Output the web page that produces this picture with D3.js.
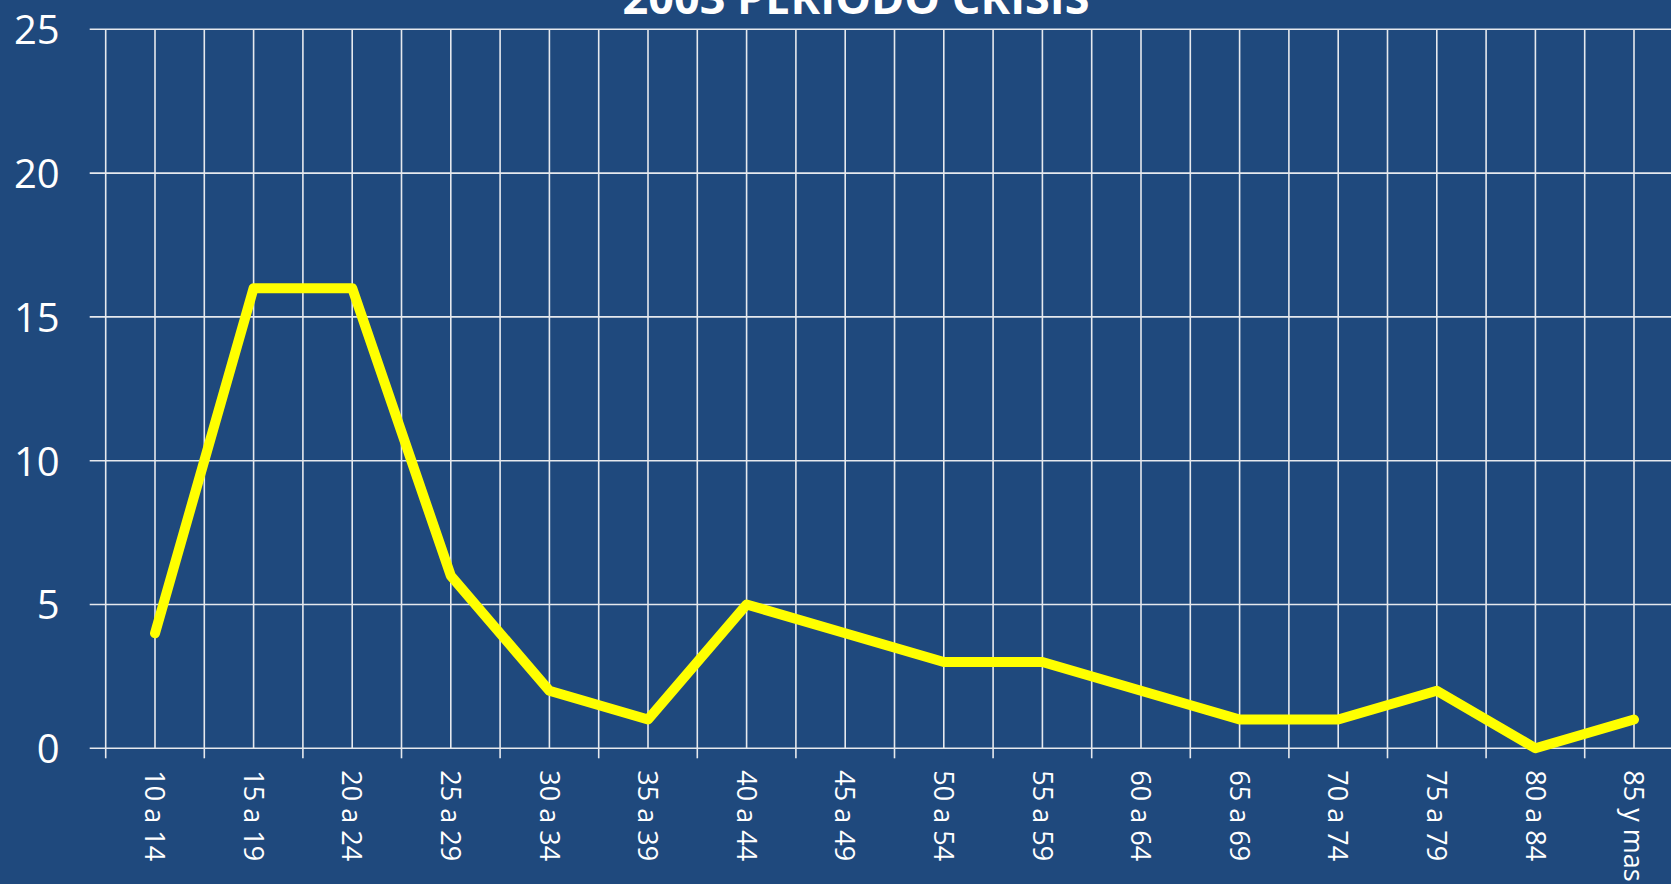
<!DOCTYPE html>
<html>
<head>
<meta charset="utf-8">
<script src="https://cdn.jsdelivr.net/npm/d3@7"></script>
<style>
  html, body { margin: 0; padding: 0; background: #1f497d; overflow: hidden; }
  #chart text { fill: #ffffff; font-family: "Open Sans", sans-serif; }
</style>
</head>
<body>
<div id="chart"></div>
<script>
// Datos del gráfico
const categorias = ["10 a 14", "15 a 19", "20 a 24", "25 a 29", "30 a 34", "35 a 39", "40 a 44", "45 a 49",
    "50 a 54", "55 a 59", "60 a 64", "65 a 69", "70 a 74", "75 a 79", "80 a 84", "85 y mas"];
const valores = [4, 16, 16, 6, 2, 1, 5, 4, 3, 3, 2, 1, 1, 2, 0, 1];
const ticksY = [0, 5, 10, 15, 20, 25];
const titulo = "2003 PERIODO CRISIS";

// Dimensiones
const width = 1671;
const height = 884;
const margen = { left: 105.7, top: 29.3, bottom: 748.3 };
const anchoCat = 98.6;

const svg = d3.select("#chart").append("svg")
    .attr("width", width)
    .attr("height", height);

svg.append("rect")
    .attr("width", width)
    .attr("height", height)
    .attr("fill", "#1f497d");

// Escalas
const x = d3.scaleBand()
    .domain(categorias)
    .range([margen.left, margen.left + anchoCat * categorias.length])
    .padding(0);

const y = d3.scaleLinear()
    .domain([0, 25])
    .range([margen.bottom, margen.top]);

const centro = d => x(d) + x.bandwidth() / 2;
const colorRejilla = "#e6e9ee";

// Líneas horizontales de la rejilla
svg.append("g")
    .selectAll("line")
    .data(ticksY)
    .enter()
    .append("line")
    .attr("x1", margen.left - 16)
    .attr("x2", width)
    .attr("y1", d => y(d))
    .attr("y2", d => y(d))
    .attr("stroke", colorRejilla)
    .attr("stroke-width", 1.6);

// Líneas verticales: bordes y centros de cada categoría
const bordes = categorias.map(d => x(d)).concat([x.range()[1]]);
const verticales = bordes.concat(categorias.map(centro));
svg.append("g")
    .selectAll("line")
    .data(verticales)
    .enter()
    .append("line")
    .attr("x1", d => d)
    .attr("x2", d => d)
    .attr("y1", margen.top)
    .attr("y2", margen.bottom)
    .attr("stroke", colorRejilla)
    .attr("stroke-width", 1.6);

// Marcas del eje X en los bordes
svg.append("g")
    .selectAll("line")
    .data(bordes)
    .enter()
    .append("line")
    .attr("x1", d => d)
    .attr("x2", d => d)
    .attr("y1", margen.bottom)
    .attr("y2", margen.bottom + 10)
    .attr("stroke", colorRejilla)
    .attr("stroke-width", 1.6);

// Eje Y (solo etiquetas)
const ejeY = svg.append("g")
    .attr("transform", `translate(${margen.left},0)`)
    .call(d3.axisLeft(y).tickValues(ticksY).tickSize(0).tickPadding(46));
ejeY.select(".domain").remove();
ejeY.selectAll("text")
    .style("font-size", "40px")
    .attr("dy", "0.36em");

// Eje X (etiquetas giradas)
const ejeX = svg.append("g")
    .attr("transform", `translate(0,${margen.bottom})`)
    .call(d3.axisBottom(x).tickSize(0));
ejeX.select(".domain").remove();
ejeX.selectAll("text")
    .style("font-size", "27px")
    .style("text-anchor", "start")
    .attr("transform", "rotate(90)")
    .attr("x", 22)
    .attr("y", 0)
    .attr("dy", "0.36em");

// Línea de la serie
const linea = d3.line()
    .x((d, i) => centro(categorias[i]))
    .y(d => y(d));

svg.append("path")
    .datum(valores)
    .attr("d", linea)
    .attr("fill", "none")
    .attr("stroke", "#ffff00")
    .attr("stroke-width", 10)
    .attr("stroke-linejoin", "round")
    .attr("stroke-linecap", "round");

// Título (recortado arriba, como en el original)
svg.append("text")
    .attr("x", 856)
    .attr("y", 14)
    .attr("text-anchor", "middle")
    .style("font-size", "45px")
    .style("font-weight", "bold")
    .text(titulo);
</script>
</body>
</html>
